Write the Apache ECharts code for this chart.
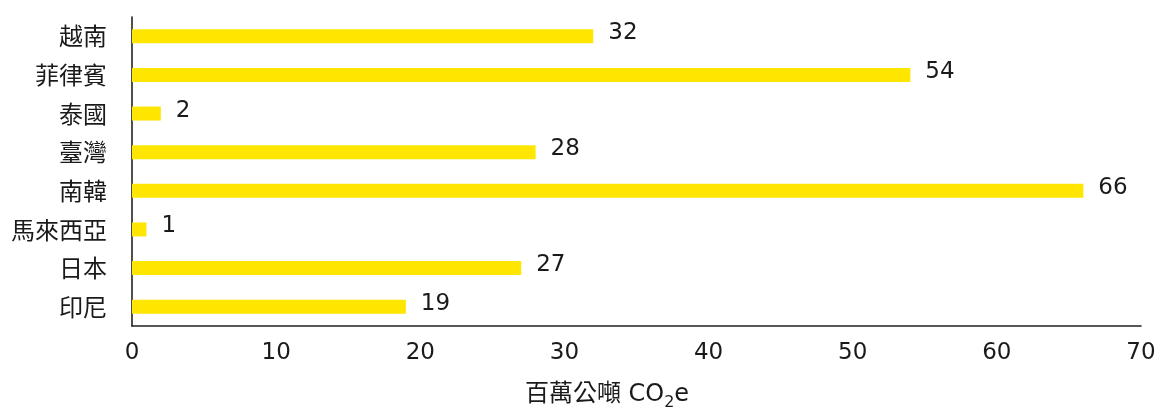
<!DOCTYPE html>
<html>
<head>
<meta charset="utf-8">
<script src="https://cdn.jsdelivr.net/npm/echarts@6/dist/echarts.min.js"></script>
<style>
html,body{margin:0;padding:0;background:#fff;}
#chart{width:1160px;height:414px;}
</style>
</head>
<body>
<div id="chart"></div>
<script>
// Countries listed top to bottom
const countries = ['越南', '菲律賓', '泰國', '臺灣', '南韓', '馬來西亞', '日本', '印尼'];
// Emissions, million tonnes CO2e
const emissions = [32, 54, 2, 28, 66, 1, 27, 19];
const xTicks = { min: 0, max: 70, step: 10 };
// Axis title with a lowered "2" in CO2e
const axisTitle = '{a|百萬公噸 CO}{s|2}{a|e}';

const chart = echarts.init(document.getElementById('chart'), null, { renderer: 'canvas' });
chart.setOption({
  animation: false,
  backgroundColor: '#ffffff',
  grid: { left: 132, right: 19, top: 17, bottom: 88, outerBoundsMode: 'none', containLabel: false },
  xAxis: {
    type: 'value',
    min: xTicks.min,
    max: xTicks.max,
    interval: xTicks.step,
    name: axisTitle,
    nameLocation: 'middle',
    nameGap: 57,
    nameTextStyle: {
      padding: [0, 59, 0, 0],
      rich: {
        a: { fontFamily: 'DejaVu Sans, Noto Sans CJK TC', fontSize: 24, color: '#1a1a1a', lineHeight: 28, verticalAlign: 'bottom', padding: [0, 0, 4, 0] },
        s: { fontFamily: 'DejaVu Sans', fontSize: 16, color: '#1a1a1a', lineHeight: 16, verticalAlign: 'bottom' }
      }
    },
    axisLine: { show: true, lineStyle: { color: '#222', width: 1.6 } },
    axisTick: { show: false },
    splitLine: { show: false },
    axisLabel: { fontFamily: 'DejaVu Sans', fontSize: 23, color: '#1a1a1a', margin: 16 }
  },
  yAxis: {
    type: 'category',
    data: countries,
    inverse: true,
    axisLine: { show: true, lineStyle: { color: '#222', width: 1.6 } },
    axisTick: { show: false },
    axisLabel: { fontFamily: 'Noto Sans CJK TC', fontSize: 24, color: '#1a1a1a', margin: 25 }
  },
  series: [{
    type: 'bar',
    data: emissions,
    barWidth: 14,
    itemStyle: { color: '#FFE600' },
    label: {
      show: true,
      position: 'right',
      distance: 15,
      fontFamily: 'DejaVu Sans',
      fontSize: 23,
      color: '#1a1a1a',
      offset: [0, -3]
    }
  }]
});
</script>
</body>
</html>
